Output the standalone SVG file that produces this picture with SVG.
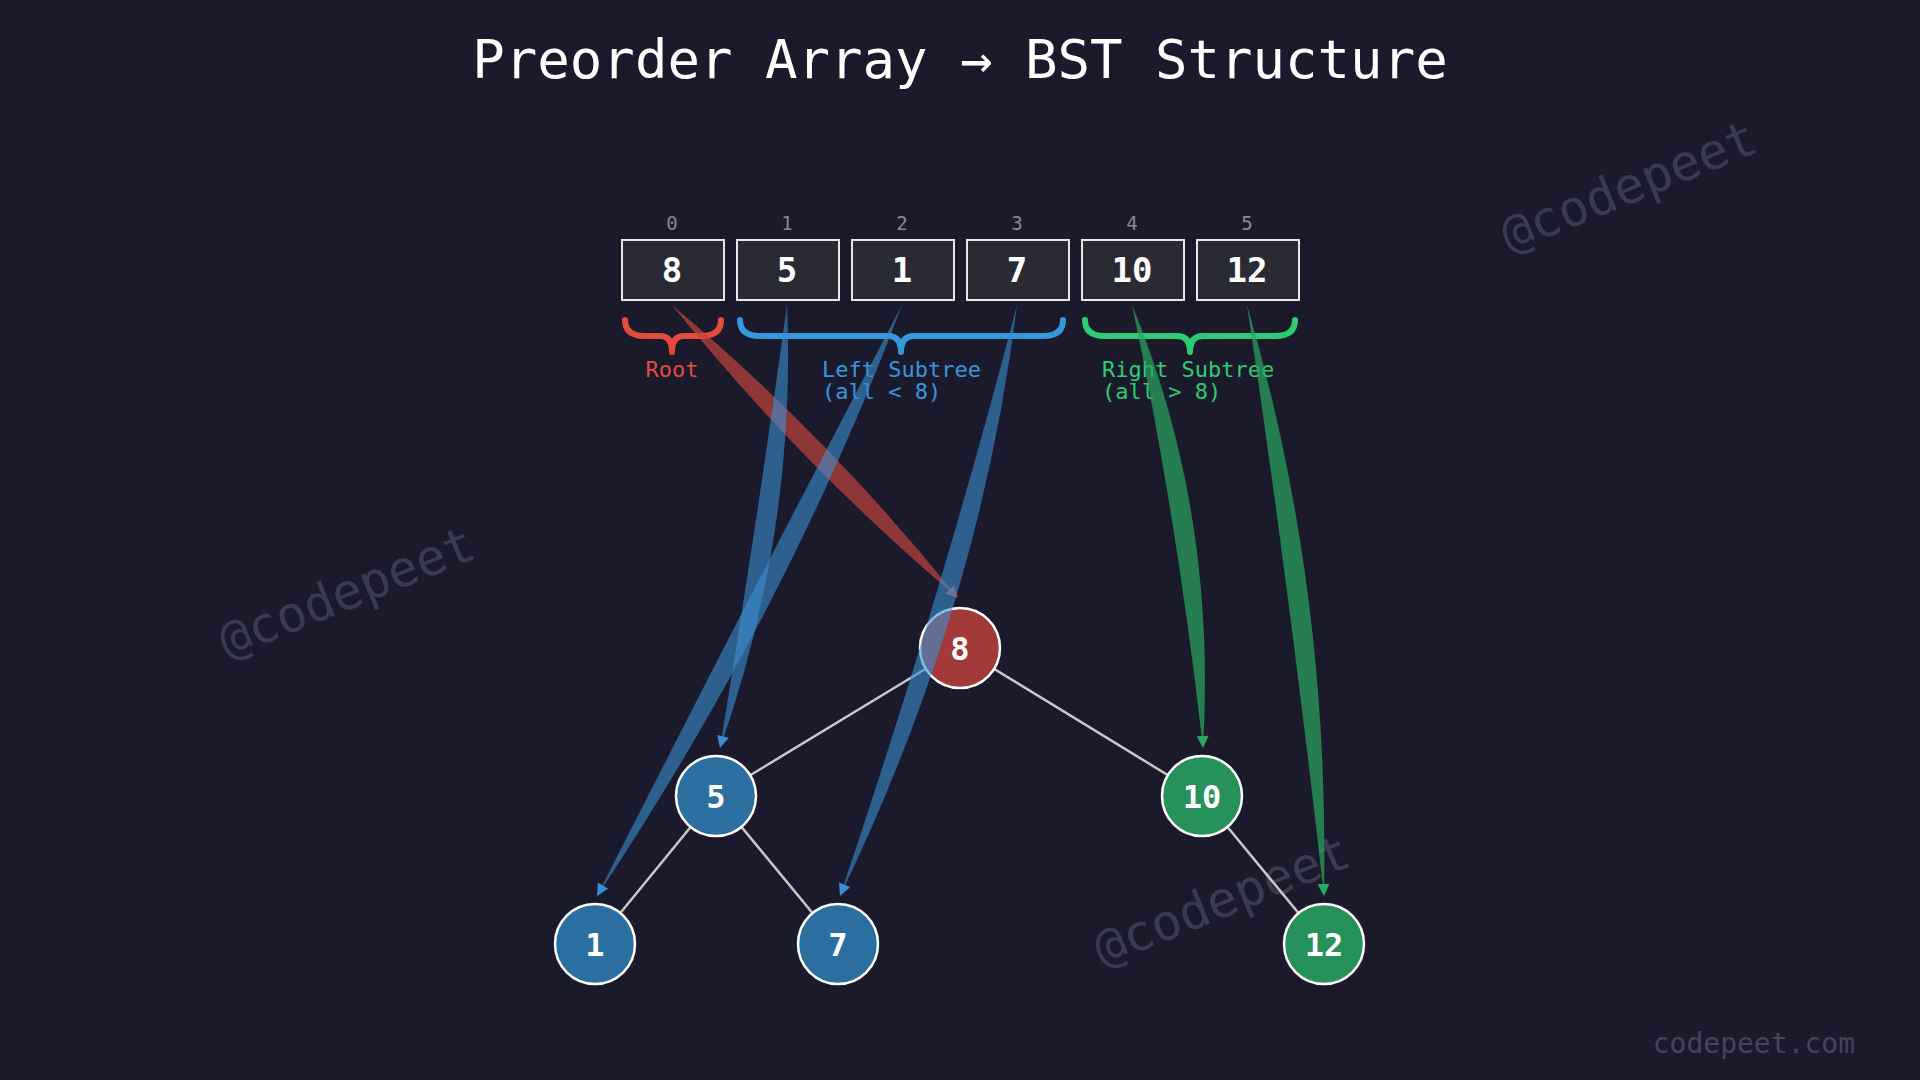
<svg xmlns="http://www.w3.org/2000/svg" width="1920" height="1080" viewBox="0 0 1920 1080">
<defs>
<style>
.mono{font-family:"DejaVu Sans Mono","Liberation Mono",monospace}
.box{fill:#2a2a35;stroke:#e8e8e8;stroke-width:2}
.val{fill:#fff;font-size:34px;font-weight:bold;text-anchor:middle}
.idx{fill:#8a8a8a;font-size:19px;text-anchor:middle}
.brace{fill:none;stroke-width:6;stroke-linecap:round;stroke-linejoin:round}
.edge{stroke:#c8c8c8;stroke-width:2.5}
.node circle{stroke:#fff;stroke-width:2.5}
.nt{fill:#fff;font-size:32px;font-weight:bold;text-anchor:middle}
.wm{fill:#3a3a50;font-size:50px}
</style>
<marker id="mr" viewBox="0 0 10 10" refX="10" refY="5" markerWidth="14" markerHeight="12" markerUnits="userSpaceOnUse" orient="auto"><path d="M0,0L10,5L0,10z" fill="#c0443c"/></marker>
<marker id="mb" viewBox="0 0 10 10" refX="10" refY="5" markerWidth="14" markerHeight="12" markerUnits="userSpaceOnUse" orient="auto"><path d="M0,0L10,5L0,10z" fill="#3a8fd0"/></marker>
<marker id="mg" viewBox="0 0 10 10" refX="10" refY="5" markerWidth="14" markerHeight="12" markerUnits="userSpaceOnUse" orient="auto"><path d="M0,0L10,5L0,10z" fill="#2aa860"/></marker>
</defs>
<rect width="1920" height="1080" fill="#1b1a2c"/>
<g class="mono">
<text class="wm" transform="translate(1635,202) rotate(-22)" text-anchor="middle">@codepeet</text>
<text class="wm" transform="translate(353,608) rotate(-22)" text-anchor="middle">@codepeet</text>
<text class="wm" transform="translate(1228,916) rotate(-22)" text-anchor="middle">@codepeet</text>
<text x="960" y="78" fill="#fff" font-size="54" text-anchor="middle">Preorder Array → BST Structure</text>
<text x="1855" y="1053" fill="#44445a" font-size="28" text-anchor="end">codepeet.com</text>
</g>
<g id="array" class="mono">
<g id="a0"><text class="idx" x="672" y="230">0</text><rect class="box" x="622" y="240" width="102" height="60"/><text class="val" x="672" y="282">8</text></g>
<g id="a1"><text class="idx" x="787" y="230">1</text><rect class="box" x="737" y="240" width="102" height="60"/><text class="val" x="787" y="282">5</text></g>
<g id="a2"><text class="idx" x="902" y="230">2</text><rect class="box" x="852" y="240" width="102" height="60"/><text class="val" x="902" y="282">1</text></g>
<g id="a3"><text class="idx" x="1017" y="230">3</text><rect class="box" x="967" y="240" width="102" height="60"/><text class="val" x="1017" y="282">7</text></g>
<g id="a4"><text class="idx" x="1132" y="230">4</text><rect class="box" x="1082" y="240" width="102" height="60"/><text class="val" x="1132" y="282">10</text></g>
<g id="a5"><text class="idx" x="1247" y="230">5</text><rect class="box" x="1197" y="240" width="102" height="60"/><text class="val" x="1247" y="282">12</text></g>
</g>
<g id="braces" class="mono">
<path class="brace" stroke="#e24c3c" d="M625,320 Q625,336 645,336 L660,336 Q672,336 672,352 Q672,336 684,336 L701,336 Q721,336 721,320"/>
<path class="brace" stroke="#3598dc" d="M740,320 Q740,336 760,336 L888,336 Q901,336 901,352 Q901,336 914,336 L1043,336 Q1063,336 1063,320"/>
<path class="brace" stroke="#2ecc71" d="M1085,320 Q1085,336 1105,336 L1177,336 Q1190,336 1190,352 Q1190,336 1203,336 L1275,336 Q1295,336 1295,320"/>
<text x="672" y="377" fill="#e24c3c" font-size="22" text-anchor="middle">Root</text>
<text x="822" y="377" fill="#3598dc" font-size="22">Left Subtree</text>
<text x="822" y="399" fill="#3598dc" font-size="22">(all &lt; 8)</text>
<text x="1102" y="377" fill="#2ecc71" font-size="22">Right Subtree</text>
<text x="1102" y="399" fill="#2ecc71" font-size="22">(all &gt; 8)</text>
</g>
<g id="edges">
<line class="edge" x1="960" y1="648" x2="716" y2="796"/>
<line class="edge" x1="960" y1="648" x2="1202" y2="796"/>
<line class="edge" x1="716" y1="796" x2="595" y2="944"/>
<line class="edge" x1="716" y1="796" x2="838" y2="944"/>
<line class="edge" x1="1202" y1="796" x2="1324" y2="944"/>
</g>
<g id="n8" class="node mono"><circle cx="960" cy="648" r="40" fill="#a33a3a"/><text class="nt" x="960" y="660">8</text></g>
<g id="n5" class="node mono"><circle cx="716" cy="796" r="40" fill="#2a6fa0"/><text class="nt" x="716" y="808">5</text></g>
<g id="n10" class="node mono"><circle cx="1202" cy="796" r="40" fill="#27915a"/><text class="nt" x="1202" y="808">10</text></g>
<g id="n1" class="node mono"><circle cx="595" cy="944" r="40" fill="#2a6fa0"/><text class="nt" x="595" y="956">1</text></g>
<g id="n7" class="node mono"><circle cx="838" cy="944" r="40" fill="#2a6fa0"/><text class="nt" x="838" y="956">7</text></g>
<g id="n12" class="node mono"><circle cx="1324" cy="944" r="40" fill="#27915a"/><text class="nt" x="1324" y="956">12</text></g>
<g id="connectors">
<path d="M672,305 Q829,437 958,598 Q801,465 672,305Z" fill="#c0443c" opacity="0.7"/>
<path d="M815,451 L958,598" stroke="none" fill="none" marker-end="url(#mr)"/>
<path d="M787,305 Q797,529 720,748 Q757,523 787,305Z" fill="#3a8fd0" opacity="0.6"/>
<path d="M777,526 L720,748" stroke="none" fill="none" marker-end="url(#mb)"/>
<path d="M902,305 Q788,609 597,896 Q752,591 902,305Z" fill="#3a8fd0" opacity="0.6"/>
<path d="M770,600 L597,896" stroke="none" fill="none" marker-end="url(#mb)"/>
<path d="M1017,305 Q980,606 840,896 Q942,594 1017,305Z" fill="#3a8fd0" opacity="0.6"/>
<path d="M961,600 L840,896" stroke="none" fill="none" marker-end="url(#mb)"/>
<path d="M1132,305 Q1217,511 1203,748 Q1177,517 1132,305Z" fill="#2aa860" opacity="0.7"/>
<path d="M1197,514 L1203,748" stroke="none" fill="none" marker-end="url(#mg)"/>
<path d="M1247,305 Q1330,587 1324,896 Q1290,593 1247,305Z" fill="#2aa860" opacity="0.7"/>
<path d="M1310,590 L1324,896" stroke="none" fill="none" marker-end="url(#mg)"/>
</g>
</svg>
